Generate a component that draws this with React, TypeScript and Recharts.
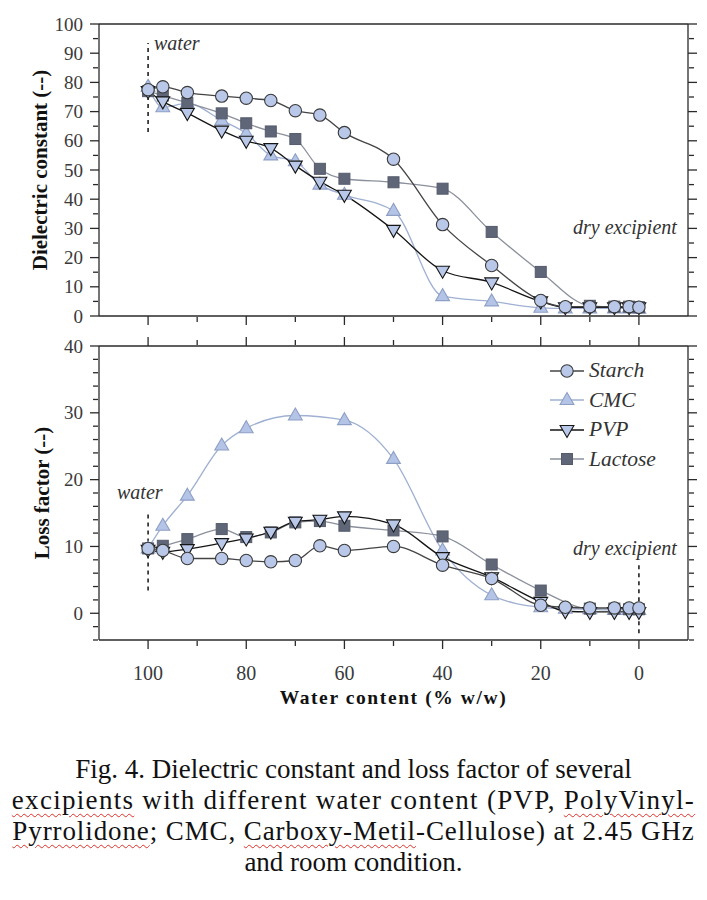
import { LineChart, Line, XAxis, YAxis, Label, Legend, ReferenceLine } from 'recharts';

// water content (% w/w) shared by every series
const waterContent = [100, 97, 92, 85, 80, 75, 70, 65, 60, 50, 40, 30, 20, 15, 10, 5, 2, 0];

// dielectric constant (top panel)
const starchEps = [77.5, 78.5, 76.5, 75.3, 74.6, 73.8, 70.3, 68.8, 62.8, 53.7, 31.3, 17.3, 5.3, 3.2, 3.2, 3.2, 3.2, 3.0];
const cmcEps = [78.5, 71.5, 72.8, 67, 62.5, 55, 53, 45, 41.5, 36, 6.8, 5, 2.8, 2.6, 2.6, 2.6, 2.6, 2.5];
const pvpEps = [77, 73.5, 69.5, 63.5, 60, 57.5, 51.5, 46, 41.5, 29.5, 15.5, 11.5, 5, 3, 3, 3, 3, 3];
const lactoseEps = [77, 75.5, 73, 69.4, 66, 63.2, 60.6, 50.4, 47, 45.8, 43.6, 28.8, 15.1, null, 3.5, 3.2, 3.2, 3.0];

// loss factor (bottom panel)
const starchLoss = [9.7, 9.4, 8.2, 8.2, 7.9, 7.7, 7.9, 10.1, 9.4, 10, 7.2, 5.2, 1.2, 0.9, 0.8, 0.8, 0.8, 0.8];
const cmcLoss = [9.7, 13.1, 17.6, 25.1, 27.7, null, 29.6, null, 28.9, 23.1, 9.4, 2.7, 0.9, 0.7, 0.6, 0.5, 0.5, 0.5];
const pvpLoss = [9.5, 9.2, 9.6, 10.5, 11.2, 12.2, 13.7, 14.0, 14.5, 13.3, 8.4, 5.4, 1.7, 0.3, 0.2, 0.2, 0.2, 0.2];
const lactoseLoss = [9.7, 10.1, 11.1, 12.6, 11.4, 12.1, 13.6, 13.8, 13.1, 12.4, 11.5, 7.3, 3.4, null, 0.7, 0.7, 0.6, 0.6];

const xTicks = [0, 20, 40, 60, 80, 100];
const xMinorTicks = [10, 30, 50, 70, 90];
const epsTicks = [0, 10, 20, 30, 40, 50, 60, 70, 80, 90, 100];
const epsMinorTicks = [5, 15, 25, 35, 45, 55, 65, 75, 85, 95];
const lossTicks = [0, 10, 20, 30, 40];
const lossMinorTicks = [-4, -2, 2, 4, 6, 8, 12, 14, 16, 18, 22, 24, 26, 28, 32, 34, 36, 38];

const epsData = waterContent.map((w, i) => ({
  w, starch: starchEps[i], cmc: cmcEps[i], pvp: pvpEps[i], lactose: lactoseEps[i],
}));
const lossData = waterContent.map((w, i) => ({
  w, starch: starchLoss[i], cmc: cmcLoss[i], pvp: pvpLoss[i], lactose: lactoseLoss[i],
}));

const SERIF = '"Liberation Serif", "Times New Roman", serif';
const AXIS = '#2a2a2a';
const TICK_TEXT = '#3a3a3a';

type Shape = 'circle' | 'up' | 'down' | 'square';
type Side = 'left' | 'right' | 'top' | 'bottom';
interface Series { key: string; name: string; line: string; fill: string; stroke: string; shape: Shape }

// draw order: CMC at the back, starch on top
const series: Series[] = [
  { key: 'cmc', name: 'CMC', line: '#9fb0d2', fill: '#b4c4e6', stroke: '#8e9fc6', shape: 'up' },
  { key: 'lactose', name: 'Lactose', line: '#8b909c', fill: '#5f6678', stroke: '#555b6c', shape: 'square' },
  { key: 'pvp', name: 'PVP', line: '#151515', fill: '#b9c8e8', stroke: '#151515', shape: 'down' },
  { key: 'starch', name: 'Starch', line: '#444444', fill: '#b9c8e8', stroke: '#3a3a3a', shape: 'circle' },
];
const legendOrder = ['starch', 'cmc', 'pvp', 'lactose'];

function Marker({ shape, cx, cy, fill, stroke }: { shape: Shape; cx: number; cy: number; fill: string; stroke: string }) {
  if (shape === 'circle') return <circle cx={cx} cy={cy} r={6.2} fill={fill} stroke={stroke} strokeWidth={1.1} />;
  if (shape === 'square') return <rect x={cx - 5.5} y={cy - 5.5} width={11} height={11} fill={fill} stroke={stroke} strokeWidth={1} />;
  const s = 7.5;
  const pts = shape === 'up'
    ? `${cx},${cy - s} ${cx + s * 0.92},${cy + s * 0.6} ${cx - s * 0.92},${cy + s * 0.6}`
    : `${cx},${cy + s} ${cx + s * 0.92},${cy - s * 0.6} ${cx - s * 0.92},${cy - s * 0.6}`;
  return <polygon points={pts} fill={fill} stroke={stroke} strokeWidth={1.1} />;
}

const dotFor = (s: Series) => (p: any) => {
  if (p.cx == null || p.cy == null || p.value == null || Number.isNaN(p.cy)) return <g key={`e${p.index}`} />;
  return (
    <g key={`d${s.key}${p.index}`}>
      <Marker shape={s.shape} cx={p.cx} cy={p.cy} fill={s.fill} stroke={s.stroke} />
    </g>
  );
};

// tickSize/tickMargin are 0, so (x, y) handed to the tick is the point on the axis line;
// the outward tick mark and the label are drawn from there
const tickMark = (side: Side, len: number, withLabel: boolean) => (p: any) => {
  const { x, y, payload } = p;
  const dx = side === 'left' ? -len : side === 'right' ? len : 0;
  const dy = side === 'top' ? -len : side === 'bottom' ? len : 0;
  const textStyle = { fontFamily: SERIF, fontSize: 19, fill: TICK_TEXT };
  return (
    <g>
      <line x1={x} y1={y} x2={x + dx} y2={y + dy} stroke={AXIS} strokeWidth={1.3} />
      {withLabel && side === 'left' && (
        <text x={x - 16} y={y} textAnchor="end" dominantBaseline="central" style={textStyle}>{payload.value}</text>
      )}
      {withLabel && side === 'bottom' && (
        <text x={x} y={y + 33} textAnchor="middle" dominantBaseline="central" style={{ ...textStyle, fontSize: 20 }}>{payload.value}</text>
      )}
    </g>
  );
};

const axisLine = { stroke: AXIS, strokeWidth: 1.3 };
const noTicks = { tickSize: 0, tickMargin: 0, tickLine: false, interval: 0 as const, allowDataOverflow: true, type: 'number' as const };
const annot = { position: 'absolute' as const, fontFamily: SERIF, fontStyle: 'italic', fontSize: 20, color: '#333', whiteSpace: 'nowrap' as const, lineHeight: '20px' };

function YTitle({ viewBox, text, cx }: any) {
  const cy = viewBox.y + viewBox.height / 2;
  return (
    <text x={cx} y={cy} transform={`rotate(-90, ${cx}, ${cy})`} textAnchor="middle" dominantBaseline="central"
      style={{ fontFamily: SERIF, fontSize: 21, fontWeight: 'bold', fill: '#111' }}>{text}</text>
  );
}

function LegendBox() {
  return (
    <div style={{ fontFamily: SERIF }}>
      {legendOrder.map((k) => {
        const s = series.find((x) => x.key === k)!;
        return (
          <div key={k} style={{ display: 'flex', alignItems: 'center', height: 29.5 }}>
            <svg width={34} height={20} style={{ display: 'block' }}>
              <line x1={0} x2={34} y1={10} y2={10} stroke={s.line} strokeWidth={1.3} />
              <Marker shape={s.shape} cx={17} cy={10} fill={s.fill} stroke={s.stroke} />
            </svg>
            <span style={{ marginLeft: 5, fontStyle: 'italic', fontSize: 21.5, color: '#333' }}>{s.name}</span>
          </div>
        );
      })}
    </div>
  );
}

// every axis box is 1px thick (a 0px box is not drawn), margins are reduced to compensate
function frameAxes(yDomain: number[], yTicks: number[], yMinor: number[], yTitle: string, titleX: number,
  topTicks: boolean, bottomLabels: boolean) {
  return [
    <XAxis key="xb" dataKey="w" domain={[-10, 110]} reversed ticks={xTicks} height={1} axisLine={axisLine}
      tick={tickMark('bottom', 9, bottomLabels)} {...noTicks}>
      {bottomLabels && (
        <Label content={({ viewBox }: any) => (
          <text x={viewBox.x + viewBox.width / 2} y={viewBox.y + 64} textAnchor="middle"
            style={{ fontFamily: SERIF, fontSize: 19.5, fontWeight: 'bold', letterSpacing: 1.6, fill: '#111' }}>
            Water content (% w/w)
          </text>
        )} />
      )}
    </XAxis>,
    <XAxis key="xbm" xAxisId="xbm" dataKey="w" domain={[-10, 110]} reversed ticks={xMinorTicks} height={1}
      axisLine={false} tick={tickMark('bottom', 5, false)} {...noTicks} />,
    <XAxis key="xt" xAxisId="xt" orientation="top" dataKey="w" domain={[-10, 110]} reversed ticks={xTicks}
      height={1} axisLine={axisLine} tick={topTicks ? tickMark('top', 9, false) : false} {...noTicks} />,
    <XAxis key="xtm" xAxisId="xtm" orientation="top" dataKey="w" domain={[-10, 110]} reversed ticks={xMinorTicks}
      height={1} axisLine={false} tick={topTicks ? tickMark('top', 5, false) : false} {...noTicks} />,
    <YAxis key="yl" domain={yDomain} ticks={yTicks} width={1} axisLine={axisLine}
      tick={tickMark('left', 9, true)} {...noTicks}>
      <Label content={(p: any) => <YTitle {...p} text={yTitle} cx={titleX} />} />
    </YAxis>,
    <YAxis key="ylm" yAxisId="ylm" domain={yDomain} ticks={yMinor} width={1} axisLine={false}
      tick={tickMark('left', 5, false)} {...noTicks} />,
    <YAxis key="yr" yAxisId="yr" orientation="right" domain={yDomain} ticks={yTicks} width={1} axisLine={axisLine}
      tick={tickMark('right', 9, false)} {...noTicks} />,
    <YAxis key="yrm" yAxisId="yrm" orientation="right" domain={yDomain} ticks={yMinor} width={1} axisLine={false}
      tick={tickMark('right', 5, false)} {...noTicks} />,
  ];
}

function seriesLines() {
  return series.map((s) => (
    <Line key={s.key} dataKey={s.key} name={s.name} type="monotone" stroke={s.line} strokeWidth={1.3}
      dot={dotFor(s)} activeDot={false} connectNulls isAnimationActive={false} />
  ));
}

const wavy = { textDecorationLine: 'underline', textDecorationStyle: 'wavy' as const, textDecorationColor: '#e0302a', textDecorationThickness: '1px', textUnderlineOffset: '4px' };

export default function App() {
  return (
    <div style={{ position: 'absolute', left: 0, top: 0, width: 707, height: 900, background: '#fff', overflow: 'hidden' }}>
      <div style={{ position: 'absolute', left: 0, top: 0 }}>
        <LineChart width={707} height={330} data={epsData} margin={{ top: 22, right: 17, bottom: 12, left: 97 }}>
          {frameAxes([0, 100], epsTicks, epsMinorTicks, 'Dielectric constant (--)', 40, false, false)}
          <ReferenceLine segment={[{ x: 100, y: 63 }, { x: 100, y: 93.5 }]} stroke="#222" strokeWidth={1.6}
            strokeDasharray="4 4" ifOverflow="visible" />
          {seriesLines()}
        </LineChart>
      </div>

      <div style={{ position: 'absolute', left: 0, top: 330 }}>
        <LineChart width={707} height={400} data={lossData} margin={{ top: 14, right: 17, bottom: 88, left: 97 }}>
          {frameAxes([-4, 40], lossTicks, lossMinorTicks, 'Loss factor (--)', 42, true, true)}
          <ReferenceLine segment={[{ x: 100, y: 3.4 }, { x: 100, y: 14.9 }]} stroke="#222" strokeWidth={1.6}
            strokeDasharray="4 4" ifOverflow="visible" />
          <ReferenceLine segment={[{ x: 0, y: -3 }, { x: 0, y: 7.2 }]} stroke="#222" strokeWidth={1.6}
            strokeDasharray="4 4" ifOverflow="visible" />
          {seriesLines()}
          <Legend layout="vertical" align="center" verticalAlign="middle"
            wrapperStyle={{ position: 'absolute', left: 550, top: 26, width: 140 }} content={() => <LegendBox />} />
        </LineChart>
      </div>

      <span style={{ ...annot, left: 154, top: 33 }}>water</span>
      <span style={{ ...annot, left: 573, top: 217 }}>dry excipient</span>
      <span style={{ ...annot, left: 117, top: 482 }}>water</span>
      <span style={{ ...annot, left: 573, top: 538 }}>dry excipient</span>

      <div style={{ position: 'absolute', left: 0, top: 754, width: 707, textAlign: 'center', fontFamily: SERIF, fontSize: 27, lineHeight: '31px', color: '#111' }}>
        <div style={{ whiteSpace: 'nowrap' }}>Fig. 4. Dielectric constant and loss factor of several</div>
        <div style={{ whiteSpace: 'nowrap', letterSpacing: 1.3 }}>
          <span style={wavy}>excipients</span> with different water content (PVP, <span style={wavy}>PolyVinyl-</span>
        </div>
        <div style={{ whiteSpace: 'nowrap', letterSpacing: 0.9 }}>
          <span style={wavy}>Pyrrolidone</span>; CMC, <span style={wavy}>Carboxy-Metil</span>-Cellulose) at 2.45 GHz
        </div>
        <div style={{ whiteSpace: 'nowrap' }}>and room condition.</div>
      </div>
    </div>
  );
}
